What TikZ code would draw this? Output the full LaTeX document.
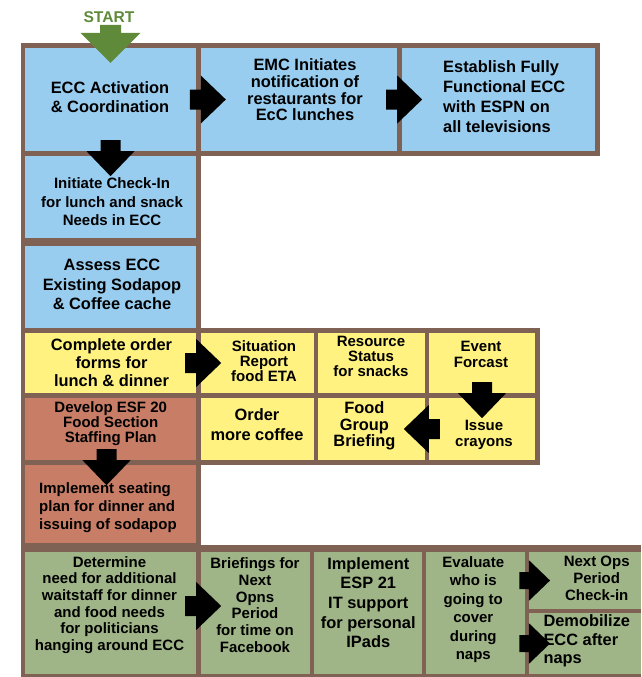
\documentclass[tikz,border=0pt]{standalone}
\usepackage{fontspec}
\setmainfont{Liberation Sans}
\usetikzlibrary{fit}

\definecolor{frame}{RGB}{128,98,85}
\definecolor{cblue}{RGB}{153,205,240}
\definecolor{cyellow}{RGB}{255,242,128}
\definecolor{cbrown}{RGB}{200,125,102}
\definecolor{cgreen}{RGB}{160,181,135}
\definecolor{cstart}{RGB}{94,138,58}

\tikzset{
  box/.style={fill=#1, draw=none, inner sep=0pt},
  bigtxt/.style={font=\fontsize{16.4}{#1}\selectfont\bfseries, align=center, inner sep=0pt},
  smalltxt/.style={font=\fontsize{15}{#1}\selectfont\bfseries, align=center, inner sep=0pt},
  blockarrow/.pic={
    \fill[black] (-11,-10) -- (0,-10) -- (0,-24) -- (25,0) -- (0,24) -- (0,10) -- (-11,10) -- cycle;
  },
  startarrow/.pic={
    \fill[cstart] (-10.5,-8) -- (10.5,-8) -- (10.5,0) -- (30,0) -- (0,30) -- (-30,0) -- (-10.5,0) -- cycle;
  }
}

\begin{document}
\begin{tikzpicture}[x=1pt, y=-1pt]

   \useasboundingbox (0,0) rectangle (641,677);

   \fill[frame] (20.5,43) rectangle (600,156);
   \fill[frame] (20.5,43) rectangle (201,552);
   \fill[frame] (20.5,328) rectangle (540,465);
   \fill[frame] (20.5,545) rectangle (641,677);

   \node[box=cblue, fit={(25,48) (196,151)}] (act) {};
   \node[box=cblue, fit={(201,48) (397,151)}] (emc) {};
   \node[box=cblue, fit={(402,48) (595,151)}] (est) {};
   \node[box=cblue, fit={(25,156) (196,238)}] (chk) {};
   \node[box=cblue, fit={(25,246) (196,328)}] (ass) {};

   \node[box=cyellow, fit={(25,333) (196,393)}] (ord) {};
   \node[box=cyellow, fit={(201,333) (314,393)}] (sit) {};
   \node[box=cyellow, fit={(318,333) (425,393)}] (res) {};
   \node[box=cyellow, fit={(429,333) (535,393)}] (evt) {};
   \node[box=cyellow, fit={(201,398) (314,460)}] (cof) {};
   \node[box=cyellow, fit={(318,398) (425,460)}] (fgb) {};
   \node[box=cyellow, fit={(429,398) (535,460)}] (cra) {};

   \node[box=cbrown, fit={(25,398) (196,460)}] (esf) {};
   \node[box=cbrown, fit={(25,465) (196,543)}] (seat) {};

   \node[box=cgreen, fit={(25,552) (196,674)}] (det) {};
   \node[box=cgreen, fit={(201,552) (310,674)}] (brf) {};
   \node[box=cgreen, fit={(314,552) (422,674)}] (esp) {};
   \node[box=cgreen, fit={(426,552) (525,674)}] (eva) {};
   \node[box=cgreen, fit={(529,552) (641,609)}] (nxt) {};
   \node[box=cgreen, fit={(529,613) (641,674)}] (dem) {};

   \node[font=\fontsize{15.6}{16}\selectfont\bfseries, text=cstart, inner sep=0pt] (start) at (109,17) {START};

   \node[bigtxt=19] (actlbl) at (110,97.5) {ECC Activation\\\& Coordination};
   \node[bigtxt=16.7] (emclbl) at (305,90) {EMC Initiates\\notification of\\restaurants for\\EcC lunches};
   \node[bigtxt=20, align=left, anchor=west] (estlbl) at (443,96.7) {Establish Fully\\Functional ECC\\with ESPN on\\all televisions};
   \node[smalltxt=18.5] (chklbl) at (112,201.7) {Initiate Check-In\\for lunch and snack\\Needs in ECC};
   \node[bigtxt=19.5] (asslbl) at (112,284.7) {Assess ECC\\Existing Sodapop\\\& Coffee cache};

   \node[bigtxt=18] (ordlbl) at (111.5,363) {Complete order\\forms for\\lunch \& dinner};
   \node[smalltxt=15] (sitlbl) at (264,361) {Situation\\Report\\food ETA};
   \node[smalltxt=15] (reslbl) at (371,356.7) {Resource\\Status\\for snacks};
   \node[smalltxt=15.6] (evtlbl) at (481,354.5) {Event\\Forcast};
   \node[bigtxt=20] (coflbl) at (257,424.3) {Order\\more coffee};
   \node[bigtxt=16.7] (fgblbl) at (364.4,426) {Food\\Group\\Briefing};
   \node[smalltxt=15.4] (cralbl) at (484,435) {Issue\\crayons};

   \node[smalltxt=15] (esflbl) at (110.7,423.3) {Develop ESF 20\\Food Section\\Staffing Plan};
   \node[smalltxt=17.9, align=left, anchor=west] (seatlbl) at (39,507.8) {Implement seating\\plan for dinner and\\issuing of sodapop};

   \node[smalltxt=16.7] (detlbl) at (109.5,605) {Determine\\need for additional\\waitstaff for dinner\\and food needs\\for politicians\\hanging around ECC};
   \node[smalltxt=16.7] (brflbl) at (255,605) {Briefings for\\Next\\Opns\\Period\\for time on\\Facebook};
   \node[bigtxt=19.6] (esplbl) at (368.3,602.6) {Implement\\ESP 21\\IT support\\for personal\\IPads};
   \node[smalltxt=18.5] (evalbl) at (473.3,609.8) {Evaluate\\who is\\going to\\cover\\during\\naps};
   \node[smalltxt=16.7] (nxtlbl) at (596.7,578.3) {Next Ops\\Period\\Check-in};
   \node[bigtxt=18.3, align=left, anchor=west] (demlbl) at (543.3,641) {Demobilize\\ECC after\\naps};

   \pic[yshift=15pt] at (act.north) {startarrow};

   \pic at (act.east -| emc.west) {blockarrow};
   \pic at (emc.east) {blockarrow};
   \pic[rotate=-90] at (act.south) {blockarrow};
   \pic at (ord.east) {blockarrow};
   \pic[rotate=-90] at (evt.south) {blockarrow};
   \pic[rotate=180] at (cra.west) {blockarrow};
   \pic[rotate=-90] at ([xshift=-4pt]esf.south) {blockarrow};
   \pic at ([yshift=7pt]det.east) {blockarrow};
   \pic[scale=0.85] at (nxt.west) {blockarrow};
   \pic[scale=0.85] at (dem.west) {blockarrow};

\end{tikzpicture}
\end{document}
